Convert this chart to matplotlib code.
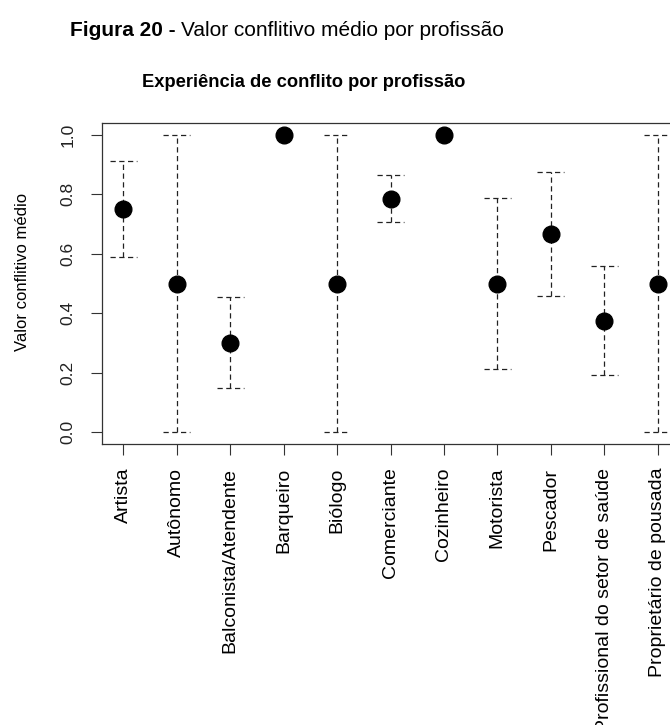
import numpy as np
import matplotlib
matplotlib.use("Agg")
import matplotlib.pyplot as plt

plt.rcParams['font.family'] = ['Liberation Sans', 'DejaVu Sans']

# Mean conflict value per profession, with the interval limits
professions = ['Artista', 'Autônomo', 'Balconista/Atendente', 'Barqueiro', 'Biólogo',
               'Comerciante', 'Cozinheiro', 'Motorista', 'Pescador',
               'Profissional do setor de saúde', 'Proprietário de pousada']
mean_value = [0.75, 0.50, 0.30, 1.00, 0.50, 0.785, 1.00, 0.50, 0.667, 0.375, 0.50]
lower = [0.588, 0.00, 0.147, 1.00, 0.00, 0.706, 1.00, 0.211, 0.457, 0.191, 0.00]
upper = [0.912, 1.00, 0.453, 1.00, 1.00, 0.864, 1.00, 0.789, 0.876, 0.559, 1.00]

W, H = 670, 725
fig = plt.figure(figsize=(W / 100, H / 100), dpi=100)

# axes box runs slightly past the right edge of the figure
left, right, top, bottom = 102, 679, 123, 444
ax = fig.add_axes([left / W, 1 - bottom / H, (right - left) / W, (bottom - top) / H])

x = np.arange(1, len(professions) + 1)
cap = 0.25
dash = (0, (4.2, 2.8))

# intervals: dashed stems and caps, skipped where there is no spread
for xi, lo, hi in zip(x, lower, upper):
    if hi - lo <= 0:
        continue
    ax.plot([xi, xi], [lo, hi], color='#222222', lw=0.9, linestyle=dash)
    ax.plot([xi - cap, xi + cap], [hi, hi], color='#222222', lw=0.9, linestyle=dash)
    ax.plot([xi - cap, xi + cap], [lo, lo], color='#222222', lw=0.9, linestyle=dash)

ax.plot(x, mean_value, 'o', color='black', markersize=12, linestyle='none', zorder=3)

ax.set_xlim(0.6, len(professions) + 0.4)
ax.set_ylim(-0.04, 1.04)

ax.set_xticks(x)
ax.set_xticklabels(professions, rotation=90, fontsize=14)
ax.set_yticks([0.0, 0.2, 0.4, 0.6, 0.8, 1.0])
ax.set_yticklabels(['0.0', '0.2', '0.4', '0.6', '0.8', '1.0'], rotation=90,
                   va='center', fontsize=12.5)
ax.tick_params(axis='x', length=8, width=0.8, pad=9, colors='#333333', labelcolor='black')
ax.tick_params(axis='y', length=8, width=0.8, pad=11, colors='#333333', labelcolor='#222222')
for s in ax.spines.values():
    s.set_linewidth(0.9)
    s.set_color('#333333')

fig.text(23 / W, 1 - 272 / H, 'Valor conflitivo médio', rotation=90,
         ha='center', va='center', fontsize=12)

ax.set_title('Experiência de conflito por profissão', fontsize=13.2,
             fontweight='bold', x=(304 - left) / (right - left), y=1, pad=26)

# figure caption: bold label followed by regular text
cap_bold = fig.text(70 / W, 1 - 31 / H, 'Figura 20 -', fontsize=15,
                    fontweight='bold', ha='left', va='center')
fig.canvas.draw()
bb = cap_bold.get_window_extent()
fig.text(bb.x1 / W + 5 / W, 1 - 31 / H, 'Valor conflitivo médio por profissão',
         fontsize=15, ha='left', va='center')

fig.savefig('out.png', dpi=100)
